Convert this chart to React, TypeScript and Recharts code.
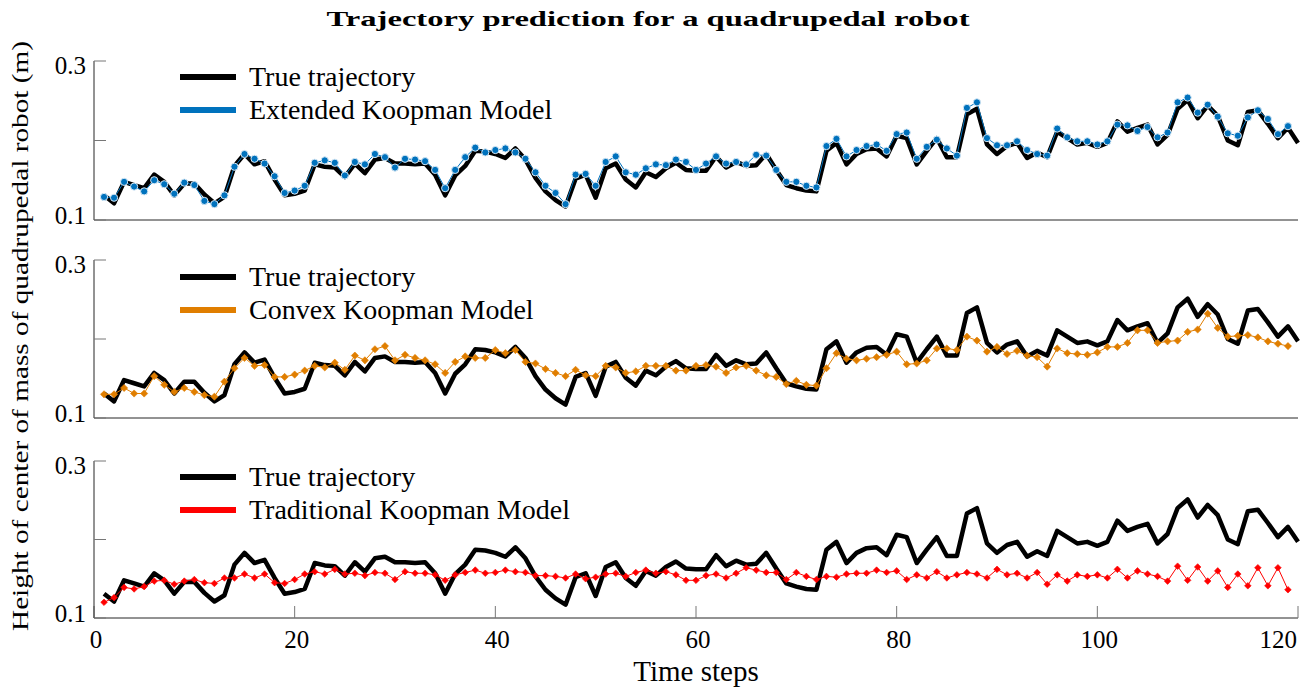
import { Legend, Line, LineChart, XAxis, YAxis } from 'recharts';

const FONT = '"Liberation Serif", "Times New Roman", serif';
const AXIS = '#262626';

const timeSteps = [
  1, 2, 3, 4, 5, 6, 7, 8, 9, 10, 11, 12, 13, 14, 15, 16, 17, 18, 19, 20,
  21, 22, 23, 24, 25, 26, 27, 28, 29, 30, 31, 32, 33, 34, 35, 36, 37, 38, 39, 40,
  41, 42, 43, 44, 45, 46, 47, 48, 49, 50, 51, 52, 53, 54, 55, 56, 57, 58, 59, 60,
  61, 62, 63, 64, 65, 66, 67, 68, 69, 70, 71, 72, 73, 74, 75, 76, 77, 78, 79, 80,
  81, 82, 83, 84, 85, 86, 87, 88, 89, 90, 91, 92, 93, 94, 95, 96, 97, 98, 99, 100,
  101, 102, 103, 104, 105, 106, 107, 108, 109, 110, 111, 112, 113, 114, 115, 116, 117, 118, 119, 120,
];

const trueTrajectory = [
  0.131, 0.121, 0.148, 0.144, 0.140, 0.157, 0.148, 0.131, 0.146, 0.146,
  0.132, 0.121, 0.129, 0.168, 0.183, 0.170, 0.174, 0.151, 0.131, 0.133,
  0.137, 0.170, 0.167, 0.166, 0.154, 0.171, 0.159, 0.176, 0.178, 0.171,
  0.171, 0.170, 0.171, 0.157, 0.131, 0.156, 0.168, 0.187, 0.186, 0.183,
  0.178, 0.190, 0.176, 0.153, 0.136, 0.125, 0.117, 0.152, 0.157, 0.128,
  0.165, 0.171, 0.151, 0.141, 0.160, 0.154, 0.165, 0.172, 0.163, 0.162,
  0.162, 0.180, 0.166, 0.173, 0.168, 0.169, 0.183, 0.163, 0.144, 0.140,
  0.137, 0.136, 0.187, 0.197, 0.170, 0.183, 0.189, 0.190, 0.180, 0.206,
  0.203, 0.170, 0.187, 0.203, 0.179, 0.179, 0.233, 0.240, 0.195, 0.183,
  0.193, 0.197, 0.178, 0.185, 0.179, 0.211, 0.203, 0.195, 0.197, 0.192,
  0.197, 0.224, 0.211, 0.216, 0.220, 0.195, 0.207, 0.240, 0.251, 0.228,
  0.244, 0.231, 0.200, 0.194, 0.236, 0.238, 0.221, 0.203, 0.216, 0.197,
];

const extendedKoopman = [
  0.129, 0.128, 0.148, 0.142, 0.136, 0.150, 0.145, 0.133, 0.147, 0.144,
  0.124, 0.120, 0.131, 0.167, 0.183, 0.177, 0.171, 0.155, 0.134, 0.137,
  0.143, 0.172, 0.175, 0.172, 0.156, 0.173, 0.170, 0.183, 0.179, 0.166,
  0.177, 0.176, 0.174, 0.163, 0.140, 0.163, 0.179, 0.191, 0.185, 0.188,
  0.190, 0.185, 0.177, 0.160, 0.143, 0.134, 0.120, 0.157, 0.158, 0.143,
  0.173, 0.180, 0.160, 0.157, 0.165, 0.170, 0.169, 0.176, 0.173, 0.163,
  0.171, 0.180, 0.171, 0.173, 0.170, 0.182, 0.181, 0.163, 0.148, 0.148,
  0.143, 0.141, 0.193, 0.202, 0.180, 0.188, 0.193, 0.195, 0.187, 0.208,
  0.210, 0.177, 0.192, 0.201, 0.190, 0.181, 0.241, 0.248, 0.203, 0.194,
  0.194, 0.199, 0.188, 0.183, 0.181, 0.215, 0.204, 0.199, 0.199, 0.195,
  0.199, 0.220, 0.219, 0.212, 0.217, 0.204, 0.210, 0.248, 0.254, 0.235,
  0.245, 0.230, 0.209, 0.206, 0.229, 0.238, 0.227, 0.208, 0.218, null,
];

const convexKoopman = [
  0.130, 0.130, 0.138, 0.131, 0.131, 0.153, 0.142, 0.133, 0.138, 0.133,
  0.129, 0.127, 0.146, 0.163, 0.176, 0.166, 0.167, 0.152, 0.152, 0.155,
  0.160, 0.166, 0.164, 0.170, 0.161, 0.179, 0.173, 0.187, 0.191, 0.173,
  0.180, 0.176, 0.173, 0.168, 0.157, 0.171, 0.178, 0.176, 0.176, 0.186,
  0.182, 0.186, 0.171, 0.169, 0.162, 0.157, 0.153, 0.161, 0.154, 0.153,
  0.166, 0.164, 0.157, 0.159, 0.166, 0.166, 0.166, 0.160, 0.160, 0.166,
  0.167, 0.165, 0.157, 0.164, 0.166, 0.160, 0.154, 0.152, 0.143, 0.147,
  0.142, 0.141, 0.163, 0.182, 0.175, 0.173, 0.175, 0.177, 0.180, 0.184,
  0.168, 0.169, 0.173, 0.188, 0.188, 0.186, 0.203, 0.198, 0.184, 0.190,
  0.181, 0.185, 0.179, 0.177, 0.165, 0.188, 0.182, 0.181, 0.180, 0.183,
  0.190, 0.190, 0.195, 0.211, 0.211, 0.195, 0.197, 0.198, 0.209, 0.212,
  0.232, 0.214, 0.203, 0.204, 0.205, 0.202, 0.197, 0.194, 0.191, null,
];

const traditionalKoopman = [
  0.120, 0.126, 0.139, 0.137, 0.140, 0.147, 0.148, 0.143, 0.147, 0.149,
  0.145, 0.144, 0.151, 0.151, 0.156, 0.151, 0.156, 0.145, 0.144, 0.149,
  0.156, 0.159, 0.156, 0.162, 0.156, 0.157, 0.154, 0.158, 0.157, 0.149,
  0.159, 0.157, 0.157, 0.155, 0.148, 0.155, 0.158, 0.161, 0.157, 0.158,
  0.161, 0.159, 0.158, 0.154, 0.154, 0.153, 0.151, 0.156, 0.150, 0.152,
  0.156, 0.157, 0.153, 0.158, 0.161, 0.157, 0.159, 0.155, 0.148, 0.148,
  0.154, 0.156, 0.151, 0.157, 0.164, 0.161, 0.158, 0.158, 0.149, 0.158,
  0.153, 0.149, 0.153, 0.152, 0.156, 0.157, 0.157, 0.161, 0.158, 0.160,
  0.149, 0.155, 0.151, 0.159, 0.151, 0.155, 0.158, 0.156, 0.151, 0.162,
  0.155, 0.157, 0.151, 0.158, 0.143, 0.155, 0.147, 0.155, 0.153, 0.155,
  0.151, 0.162, 0.151, 0.160, 0.156, 0.153, 0.147, 0.166, 0.148, 0.165,
  0.147, 0.160, 0.139, 0.156, 0.141, 0.164, 0.141, 0.164, 0.136, null,
];

const xTicks = [0, 20, 40, 60, 80, 100, 120];
const yTicks = [0.1, 0.2, 0.3];

const rows = timeSteps.map((t, i) => ({
  t,
  truth: trueTrajectory[i],
  extended: extendedKoopman[i],
  convex: convexKoopman[i],
  traditional: traditionalKoopman[i],
}));

const tickText = { fontFamily: FONT, fontSize: 25, fill: '#000' };

const diamondDot = (color: string, size: number) => (props: any) => {
  const { cx, cy, index } = props;
  if (cx == null || cy == null) return <g key={index} />;
  return (
    <path
      key={index}
      d={`M${cx},${cy - size}L${cx + size},${cy}L${cx},${cy + size}L${cx - size},${cy}Z`}
      fill={color}
      stroke={color}
      strokeWidth={0.6}
    />
  );
};

// y labels sit a little inside the axis ends, as in the source figure
function YTick({ x, y, payload }: any) {
  if (payload.value === 0.2) return null;
  const shift = payload.value === 0.3 ? 4 : -5;
  return (
    <text x={x} y={y + shift} textAnchor="end" dominantBaseline="central" style={tickText}>
      {payload.value.toFixed(1)}
    </text>
  );
}

function XTick({ x, y, payload }: any) {
  const last = payload.value === 120;
  return (
    <text x={x + 2} y={y} dy="0.71em" textAnchor={last ? 'end' : 'middle'} style={tickText}>
      {payload.value}
    </text>
  );
}

function LegendBox({ payload }: any) {
  const items = [...(payload || [])].sort((a: any, b: any) => (a.dataKey === 'truth' ? -1 : b.dataKey === 'truth' ? 1 : 0));
  return (
    <div style={{ fontFamily: FONT, fontSize: 28, color: '#000' }}>
      {items.map((p: any) => (
        <div key={p.value} style={{ display: 'flex', alignItems: 'center', height: 33 }}>
          <span style={{ display: 'inline-block', width: 56, height: 6, background: p.color, marginRight: 13 }} />
          <span style={{ whiteSpace: 'nowrap' }}>{p.value}</span>
        </div>
      ))}
    </div>
  );
}

interface PanelProps {
  top: number;
  height: number;
  marginTop: number;
  axisHeight: number;
  legendTop: number;
  dataKey: string;
  name: string;
  color: string;
  dot: any;
  showXLabels?: boolean;
}

function Panel({ top, height, marginTop, axisHeight, legendTop, dataKey, name, color, dot, showXLabels }: PanelProps) {
  return (
    <div style={{ position: 'absolute', left: 0, top }}>
      <LineChart width={1307} height={height} data={rows} margin={{ top: marginTop, right: 9, bottom: 0, left: 44 }}>
        <XAxis
          type="number"
          dataKey="t"
          domain={[0, 120]}
          ticks={xTicks}
          height={axisHeight}
          tickSize={-12}
          tickMargin={24}
          axisLine={{ stroke: AXIS }}
          tickLine={{ stroke: '#777' }}
          tick={showXLabels ? <XTick /> : false}
          label={showXLabels ? { value: 'Time steps', position: 'insideBottom', offset: 7, fill: '#000', fontSize: 29, fontFamily: FONT } : undefined}
        />
        <YAxis
          type="number"
          domain={[0.1, 0.3]}
          ticks={yTicks}
          allowDataOverflow
          width={50}
          tickSize={-12}
          tickMargin={20}
          axisLine={{ stroke: AXIS }}
          tickLine={{ stroke: '#777' }}
          tick={<YTick />}
        />
        <Legend
          layout="vertical"
          align="center"
          verticalAlign="middle"
          content={<LegendBox />}
          wrapperStyle={{ left: 180, top: legendTop, width: 'auto' }}
        />
        <Line
          dataKey="truth"
          name="True trajectory"
          stroke="#000"
          strokeWidth={4.5}
          strokeLinejoin="round"
          dot={false}
          isAnimationActive={false}
        />
        <Line
          dataKey={dataKey}
          name={name}
          stroke={color}
          strokeWidth={1}
          dot={dot}
          activeDot={false}
          isAnimationActive={false}
        />
      </LineChart>
    </div>
  );
}

export default function App() {
  return (
    <div style={{ position: 'absolute', left: 0, top: 0, width: 1307, height: 688, background: '#fff' }}>
      <svg width={1307} height={688} style={{ position: 'absolute', left: 0, top: 0 }}>
        <text
          x={648}
          y={26}
          textAnchor="middle"
          fontFamily={FONT}
          fontWeight="bold"
          fontSize={22}
          textLength={643}
          lengthAdjust="spacingAndGlyphs"
        >
          Trajectory prediction for a quadrupedal robot
        </text>
        <text
          x={0}
          y={0}
          transform="translate(28,336) rotate(-90)"
          textAnchor="middle"
          fontFamily={FONT}
          fontSize={24}
          textLength={590}
          lengthAdjust="spacingAndGlyphs"
        >
          Height of center of mass of quadrupedal robot (m)
        </text>
      </svg>
      <Panel
        top={0}
        height={240}
        marginTop={61}
        axisHeight={20}
        legendTop={60}
        dataKey="extended"
        name="Extended Koopman Model"
        color="#0072BD"
        dot={{ r: 3.6, fill: '#0072BD', stroke: '#d6e8f5', strokeWidth: 1 }}
      />
      <Panel
        top={240}
        height={200}
        marginTop={20}
        axisHeight={22}
        legendTop={20}
        dataKey="convex"
        name="Convex Koopman Model"
        color="#E07E00"
        dot={diamondDot('#E07E00', 3.6)}
      />
      <Panel
        top={440}
        height={248}
        marginTop={21}
        axisHeight={70}
        legendTop={20}
        dataKey="traditional"
        name="Traditional Koopman Model"
        color="#FF0000"
        dot={diamondDot('#FF0000', 3.3)}
        showXLabels
      />
    </div>
  );
}
